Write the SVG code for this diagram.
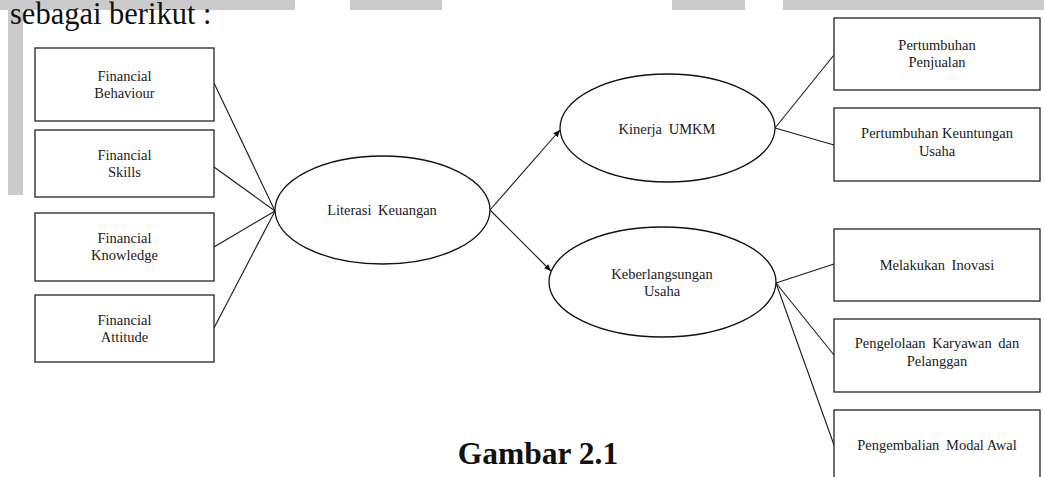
<svg xmlns="http://www.w3.org/2000/svg" width="1044" height="477" viewBox="0 0 1044 477">
<style>
.bg{fill:#cbcbcb}
.box{fill:#fff;stroke:#222;stroke-width:1.3}
.ell{fill:#fff;stroke:#111;stroke-width:1.3}
.t{font-family:"Liberation Serif","Times New Roman",serif;font-size:14.5px;fill:#1a1a1a;text-anchor:middle}
.w{word-spacing:3px}
.ln{stroke:#1a1a1a;stroke-width:1.1;fill:none}
.big{font-family:"Liberation Serif","Times New Roman",serif;font-size:31.5px;fill:#111}
</style>
<defs>
<marker id="ah" markerWidth="8" markerHeight="8" refX="7" refY="4" orient="auto" markerUnits="userSpaceOnUse">
<path d="M0,1 L7,4 L0,7 Z" fill="#111"/>
</marker>
</defs>
<rect width="1044" height="477" fill="#fff"/>
<g id="page-bg">
<rect class="bg" x="0" y="0" width="295" height="10"/>
<rect class="bg" x="8" y="0" width="15" height="195"/>
<rect class="bg" x="350" y="0" width="92" height="10"/>
<rect class="bg" x="672" y="0" width="73" height="10"/>
<rect class="bg" x="783" y="0" width="261" height="10"/>
</g>
<text class="big" x="10" y="24" style="font-size:30.5px">sebagai berikut :</text>
<g id="connectors">
<line class="ln" x1="214" y1="83" x2="275" y2="211"/>
<line class="ln" x1="214" y1="167" x2="275" y2="211"/>
<line class="ln" x1="214" y1="247" x2="275" y2="211"/>
<line class="ln" x1="214" y1="328" x2="275" y2="211"/>
<line class="ln" x1="490" y1="210" x2="560" y2="130" marker-end="url(#ah)"/>
<line class="ln" x1="490" y1="210" x2="551" y2="271" marker-end="url(#ah)"/>
<line class="ln" x1="775" y1="128" x2="834" y2="55"/>
<line class="ln" x1="775" y1="128" x2="834" y2="145"/>
<line class="ln" x1="776" y1="283" x2="834" y2="264"/>
<line class="ln" x1="776" y1="283" x2="834" y2="355"/>
<line class="ln" x1="776" y1="283" x2="834" y2="445"/>
</g>
<g id="n-behaviour"><rect class="box" x="35" y="48" width="179" height="73"/><text class="t" x="124.5" y="81">Financial</text><text class="t" x="124.5" y="98">Behaviour</text></g>
<g id="n-skills"><rect class="box" x="35" y="130" width="179" height="67"/><text class="t" x="124.5" y="160">Financial</text><text class="t" x="124.5" y="177">Skills</text></g>
<g id="n-knowledge"><rect class="box" x="35" y="213" width="179" height="68"/><text class="t" x="124.5" y="243">Financial</text><text class="t" x="124.5" y="260">Knowledge</text></g>
<g id="n-attitude"><rect class="box" x="35" y="295" width="179" height="67"/><text class="t" x="124.5" y="325">Financial</text><text class="t" x="124.5" y="342">Attitude</text></g>
<g id="n-literasi"><ellipse class="ell" cx="382.5" cy="210" rx="107.5" ry="54"/><text class="t w" x="382" y="215">Literasi Keuangan</text></g>
<g id="n-kinerja"><ellipse class="ell" cx="667.5" cy="128" rx="107.5" ry="54"/><text class="t w" x="667" y="134">Kinerja UMKM</text></g>
<g id="n-keberlangsungan"><ellipse class="ell" cx="662.5" cy="282" rx="113.5" ry="55"/><text class="t" x="662" y="279">Keberlangsungan</text><text class="t" x="662" y="296">Usaha</text></g>
<g id="n-penjualan"><rect class="box" x="834" y="18" width="206" height="72"/><text class="t" x="937" y="50">Pertumbuhan</text><text class="t" x="937" y="67">Penjualan</text></g>
<g id="n-keuntungan"><rect class="box" x="834" y="108" width="206" height="73"/><text class="t" x="937" y="138">Pertumbuhan Keuntungan</text><text class="t" x="937" y="156">Usaha</text></g>
<g id="n-inovasi"><rect class="box" x="834" y="229" width="206" height="72"/><text class="t w" x="937" y="270">Melakukan Inovasi</text></g>
<g id="n-pengelolaan"><rect class="box" x="834" y="319" width="206" height="73"/><text class="t w" x="937" y="348">Pengelolaan Karyawan dan</text><text class="t" x="937" y="366">Pelanggan</text></g>
<g id="n-pengembalian"><rect class="box" x="834" y="410" width="206" height="72"/><text class="t" x="937" y="450"><tspan>Pengembalian</tspan><tspan dx="3"> Modal Awal</tspan></text></g>
<text class="big" x="538" y="464" text-anchor="middle" font-weight="bold">Gambar 2.1</text>
</svg>
